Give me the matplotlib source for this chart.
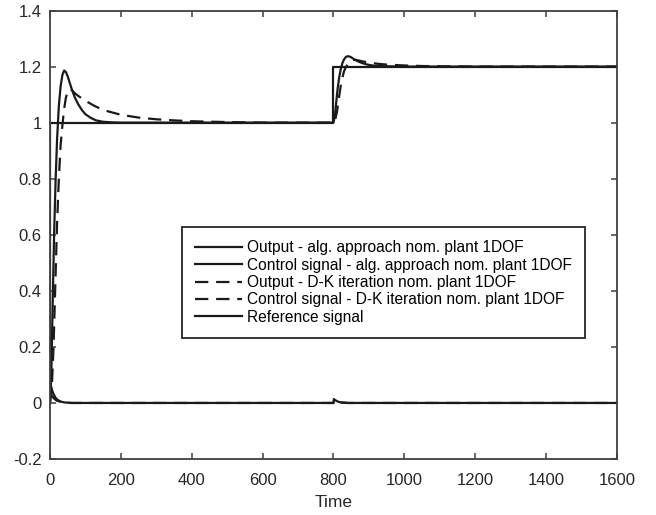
import matplotlib
matplotlib.use("Agg")
import matplotlib.pyplot as plt

# output - algebraic approach (solid)
t_alg = [0, 4, 8, 12, 16, 20, 25, 30, 35, 40, 45, 50, 60, 70, 80, 90, 100, 115, 130, 150, 175, 200,
         800, 804, 808, 812, 816, 820, 825, 830, 835, 840, 845, 850, 860, 870, 880, 890, 900, 915, 930, 950, 1000, 1600]
y_alg = [0, 0.12, 0.38, 0.62, 0.80, 0.94, 1.06, 1.13, 1.17, 1.186, 1.18, 1.165, 1.125, 1.09, 1.065, 1.045, 1.03, 1.017, 1.008, 1.003, 1.001, 1.0,
         1.0, 1.024, 1.076, 1.124, 1.16, 1.188, 1.212, 1.226, 1.234, 1.237, 1.236, 1.233, 1.225, 1.218, 1.213, 1.209, 1.206, 1.203, 1.202, 1.201, 1.2, 1.2]

# output - D-K iteration (dashed)
t_dk = [0, 5, 10, 15, 20, 25, 30, 35, 40, 45, 50, 55, 60, 70, 80, 100, 125, 150, 200, 250, 300, 350, 400, 500, 600, 800,
        805, 810, 815, 820, 825, 830, 835, 840, 845, 850, 860, 870, 880, 900, 925, 950, 1000, 1050, 1100, 1200, 1600]
y_dk = [0, 0.05, 0.2, 0.42, 0.64, 0.8, 0.92, 0.99, 1.05, 1.09, 1.11, 1.12, 1.118, 1.105, 1.095, 1.078, 1.06, 1.045, 1.028, 1.018, 1.012, 1.008, 1.005, 1.002, 1.0, 1.0,
        1.01, 1.04, 1.084, 1.128, 1.16, 1.184, 1.198, 1.208, 1.215, 1.222, 1.224, 1.222, 1.219, 1.214, 1.21, 1.207, 1.204, 1.202, 1.201, 1.2, 1.2]

# control signals
t_u_alg = [0, 3, 6, 10, 15, 20, 30, 40, 60, 800, 801, 805, 812, 820, 840, 1600]
u_alg = [0.07, 0.06, 0.045, 0.032, 0.02, 0.012, 0.005, 0.002, 0.0, 0.0, 0.014, 0.01, 0.005, 0.002, 0.0, 0.0]
t_u_dk = [0, 3, 6, 10, 15, 20, 30, 40, 60, 800, 801, 805, 812, 820, 840, 1600]
u_dk = [0.03, 0.028, 0.024, 0.018, 0.012, 0.008, 0.004, 0.002, 0.0, 0.0, 0.008, 0.007, 0.004, 0.002, 0.0, 0.0]

# reference signal
t_ref = [0, 0, 800, 800, 1600]
r_ref = [0, 1, 1, 1.2, 1.2]

labels = ["Output - alg. approach nom. plant 1DOF",
          "Control signal - alg. approach nom. plant 1DOF",
          "Output - D-K iteration nom. plant 1DOF",
          "Control signal - D-K iteration nom. plant 1DOF",
          "Reference signal"]

plt.rcParams['font.family'] = ['Liberation Sans', 'DejaVu Sans']
fig = plt.figure(figsize=(6.56, 5.15), dpi=100)
ax = fig.add_axes([0.0762, 0.1087, 0.8643, 0.8709])

lc = '#1a1a1a'
lw = 1.6
dash = (6, 3.5)
ax.plot(t_alg, y_alg, color=lc, lw=lw, label=labels[0])
ax.plot(t_u_alg, u_alg, color=lc, lw=lw, label=labels[1])
ax.plot(t_dk, y_dk, color=lc, lw=lw, ls=(0, dash), label=labels[2])
ax.plot(t_u_dk, u_dk, color=lc, lw=lw, ls=(0, dash), label=labels[3])
ax.plot(t_ref, r_ref, color=lc, lw=lw, label=labels[4])

ax.set_xlim(0, 1600)
ax.set_ylim(-0.2, 1.4)
ax.set_xticks(range(0, 1601, 200))
ax.set_yticks([-0.2, 0, 0.2, 0.4, 0.6, 0.8, 1, 1.2, 1.4])
ax.set_yticklabels(['-0.2', '0', '0.2', '0.4', '0.6', '0.8', '1', '1.2', '1.4'])
ax.tick_params(direction='in', top=True, right=True, length=4, width=1.1,
               color='#404040', labelcolor='#262626', labelsize=12)
ax.tick_params(axis='x', pad=10)
ax.tick_params(axis='y', pad=6)
for s in ax.spines.values():
    s.set_color('#404040')
    s.set_linewidth(1.3)
ax.set_xlabel('Time', fontsize=12.5, color='#262626', labelpad=5)

leg = ax.legend(loc='upper left', bbox_to_anchor=(0.2328, 0.517),
                fontsize=11.2, handlelength=3.0, handletextpad=0.3, borderaxespad=0,
                borderpad=0.85, labelspacing=0.15, fancybox=False, framealpha=1, edgecolor='#262626')
leg.get_frame().set_linewidth(1.3)

fig.savefig('out.png', dpi=100)
